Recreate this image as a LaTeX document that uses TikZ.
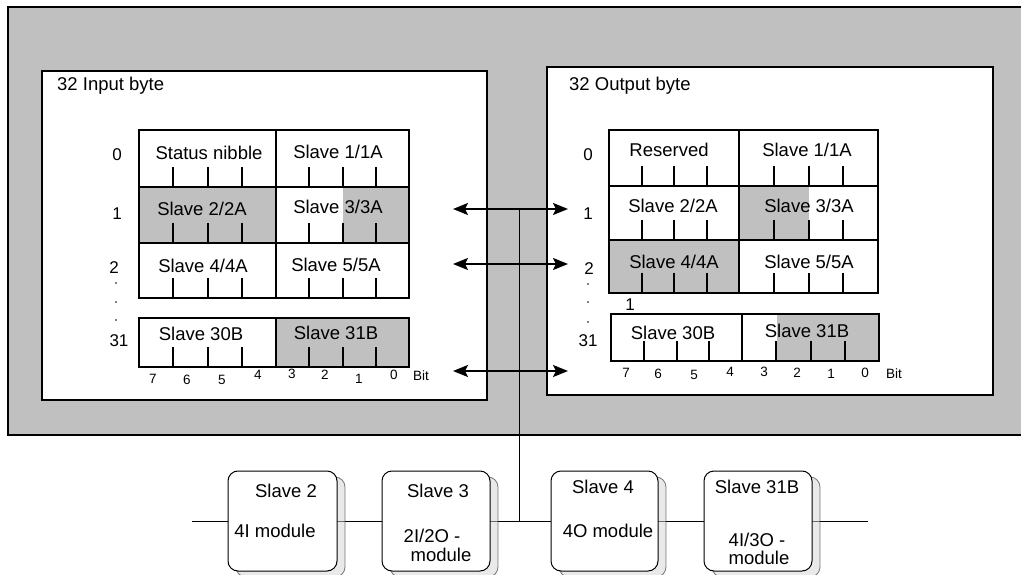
\documentclass[tikz,border=0pt]{standalone}
\usepackage{fontspec}
\setmainfont{Liberation Sans}
\usetikzlibrary{arrows.meta,shadows,calc}
\definecolor{panel}{HTML}{C0C0C0}
\definecolor{shade}{HTML}{D4D4D4}
\begin{document}
\begin{tikzpicture}[x=1pt,y=-1pt,
  frame/.style={draw=black,line width=2pt},
  cell/.style={draw=black,line width=2.2pt,anchor=north west,inner sep=0pt,outer sep=0pt},
  tick/.style={line width=2pt},
  txt/.style={font=\fontsize{18.5}{20}\selectfont,anchor=base,inner sep=0pt},
  rowlab/.style={font=\fontsize{17}{19}\selectfont,anchor=base,inner sep=0pt},
  bitlab/.style={font=\fontsize{13.5}{15}\selectfont,anchor=base,inner sep=0pt},
  dotmark/.style={circle,fill=black,inner sep=0pt,minimum size=1.8pt},
  dbl/.style={line width=2pt,{Stealth[length=15pt,width=12pt,inset=3pt]}-{Stealth[length=15pt,width=12pt,inset=3pt]}},
  wire/.style={line width=1pt},
  module/.style={draw=black,line width=1pt,rounded corners=10pt,fill=white,inner sep=0pt,
    minimum height=100pt,
    drop shadow={shadow xshift=8pt,shadow yshift=-6pt,fill=shade,draw=black,line width=0.8pt}}
]
\useasboundingbox (0,0) rectangle (1021,575);
\fill[white] (0,0) rectangle (1021,575);

% outer panel
\fill[panel] (8,7) rectangle (1021,435);
\draw[line width=2pt] (1021,7) -- (8,7) -- (8,435) -- (1021,435);

% inner boxes
\node[frame,fill=white,anchor=north west,inner sep=0pt,outer sep=0pt,minimum width=445pt,minimum height=329pt] (inbox) at (42,71) {};
\node[frame,fill=white,anchor=north west,inner sep=0pt,outer sep=0pt,minimum width=446pt,minimum height=328pt] (outbox) at (547,67) {};
\node[txt,anchor=base west] (inhead) at (57,91) {32 Input byte};
\node[txt,anchor=base west] (outhead) at (569,91) {32 Output byte};

% partial grey fills
\fill[panel] (343,187) rectangle (409,243);
\fill[panel] (739,186) rectangle (809,240);
\fill[panel] (777,314) rectangle (879,361);

% input table cells
\node[cell,minimum width=137pt,minimum height=57pt] (L0a) at (139,130) {};
\node[cell,minimum width=133pt,minimum height=57pt] (L0b) at (276,130) {};
\node[cell,fill=panel,minimum width=137pt,minimum height=56pt] (L1a) at (139,187) {};
\node[cell,minimum width=133pt,minimum height=56pt] (L1b) at (276,187) {};
\node[cell,minimum width=137pt,minimum height=55pt] (L2a) at (139,243) {};
\node[cell,minimum width=133pt,minimum height=55pt] (L2b) at (276,243) {};
\node[cell,minimum width=137pt,minimum height=49pt] (L31a) at (139,318) {};
\node[cell,fill=panel,minimum width=133pt,minimum height=49pt] (L31b) at (276,318) {};

% output table cells
\node[cell,minimum width=130pt,minimum height=56pt] (R0a) at (609,130) {};
\node[cell,minimum width=139pt,minimum height=56pt] (R0b) at (739,130) {};
\node[cell,minimum width=130pt,minimum height=54pt] (R1a) at (609,186) {};
\node[cell,minimum width=139pt,minimum height=54pt] (R1b) at (739,186) {};
\node[cell,fill=panel,minimum width=130pt,minimum height=53pt] (R2a) at (609,240) {};
\node[cell,minimum width=139pt,minimum height=53pt] (R2b) at (739,240) {};
\node[cell,minimum width=131pt,minimum height=47pt] (R31a) at (611,314) {};
\node[cell,minimum width=137pt,minimum height=47pt] (R31b) at (742,314) {};

% ticks
\foreach \c in {L0a,L0b,L1a,L1b,L2a,L2b,L31a,L31b,R0a,R0b,R1a,R1b,R2a,R2b,R31a,R31b}
  \foreach \f in {0.25,0.5,0.75}
    \draw[tick] ($(\c.south west)!\f!(\c.south east)$) -- ++(0,-20);

% cell texts (input)
\node[txt] (tL0a) at (209,160) {Status nibble};
\node[txt] (tL0b) at (338,159) {Slave 1/1A};
\node[txt] (tL1a) at (202,215) {Slave 2/2A};
\node[txt] (tL1b) at (338,214) {Slave 3/3A};
\node[txt] (tL2a) at (203,272) {Slave 4/4A};
\node[txt] (tL2b) at (336,271) {Slave 5/5A};
\node[txt] (tL31a) at (201,340) {Slave 30B};
\node[txt] (tL31b) at (336,339) {Slave 31B};
% cell texts (output)
\node[txt] (tR0a) at (669,157) {Reserved};
\node[txt] (tR0b) at (807,157) {Slave 1/1A};
\node[txt] (tR1a) at (673,213) {Slave 2/2A};
\node[txt] (tR1b) at (809,212) {Slave 3/3A};
\node[txt] (tR2a) at (674,269) {Slave 4/4A};
\node[txt] (tR2b) at (809,269) {Slave 5/5A};
\node[txt] (tR31a) at (673,339) {Slave 30B};
\node[txt] (tR31b) at (807,337) {Slave 31B};

% row labels
\node[rowlab] (lr0) at (117,161) {0};
\node[rowlab] (lr1) at (117,219) {1};
\node[rowlab] (lr2) at (114,273) {2};
\node[dotmark] (ld1) at (116,283) {};
\node[dotmark] (ld2) at (116,302) {};
\node[dotmark] (ld3) at (116,320) {};
\node[rowlab] (lr31) at (119,346) {31};
\node[rowlab] (rr0) at (588,161) {0};
\node[rowlab] (rr1) at (588,220) {1};
\node[rowlab] (rr2) at (589,274) {2};
\node[dotmark] (rd1) at (588,284) {};
\node[dotmark] (rd2) at (588,302) {};
\node[dotmark] (rd3) at (588,322) {};
\node[rowlab] (rr31) at (588,346) {31};
\node[rowlab] (rextra) at (630,310) {1};

% bit labels
\node[bitlab] (lb7) at (153,383) {7};
\node[bitlab] (lb6) at (187,384) {6};
\node[bitlab] (lb5) at (222,384) {5};
\node[bitlab] (lb4) at (258,379) {4};
\node[bitlab] (lb3) at (292,378) {3};
\node[bitlab] (lb2) at (325,379) {2};
\node[bitlab] (lb1) at (359,383) {1};
\node[bitlab] (lb0) at (394,379) {0};
\node[bitlab] (lbit) at (421,380) {Bit};
\node[bitlab] (rb7) at (626,377) {7};
\node[bitlab] (rb6) at (658,378) {6};
\node[bitlab] (rb5) at (694,379) {5};
\node[bitlab] (rb4) at (730,376) {4};
\node[bitlab] (rb3) at (764,376) {3};
\node[bitlab] (rb2) at (797,377) {2};
\node[bitlab] (rb1) at (831,378) {1};
\node[bitlab] (rb0) at (865,377) {0};
\node[bitlab] (rbit) at (894,378) {Bit};

% exchange arrows
\coordinate (a1L) at (453,209); \coordinate (a1R) at (568,209);
\coordinate (a2L) at (453,264); \coordinate (a2R) at (568,264);
\coordinate (a3L) at (453,371); \coordinate (a3R) at (568,371);
\draw[dbl] (a1L) -- (a1R);
\draw[dbl] (a2L) -- (a2R);
\draw[dbl] (a3L) -- (a3R);

% bus
\coordinate (top) at (519,209);
\coordinate (junc) at (519,521);
\coordinate (busL) at (192,521);
\coordinate (busR) at (868,521);
\draw[wire] (top) -- (junc);
\draw[wire] (busL) -- (busR);

% modules
\node[module,minimum width=109pt] (m2) at (282.5,521) {};
\node[module,minimum width=108pt] (m3) at (436,521) {};
\node[module,minimum width=107pt] (m4) at (604.5,521) {};
\node[module,minimum width=108pt] (m31) at (758,521) {};

\node[txt] (m2a) at (286,497) {Slave 2};
\node[txt] (m2b) at (275,537) {4I module};
\node[txt] (m3a) at (438,497) {Slave 3};
\node[txt] (m3b) at (432,542) {2I/2O -};
\node[txt] (m3c) at (441,561) {module};
\node[txt] (m4a) at (603,493) {Slave 4};
\node[txt] (m4b) at (608,537) {4O module};
\node[txt] (m31a) at (757,493) {Slave 31B};
\node[txt] (m31b) at (757,546) {4I/3O -};
\node[txt] (m31c) at (759,564) {module};
\end{tikzpicture}
\end{document}
